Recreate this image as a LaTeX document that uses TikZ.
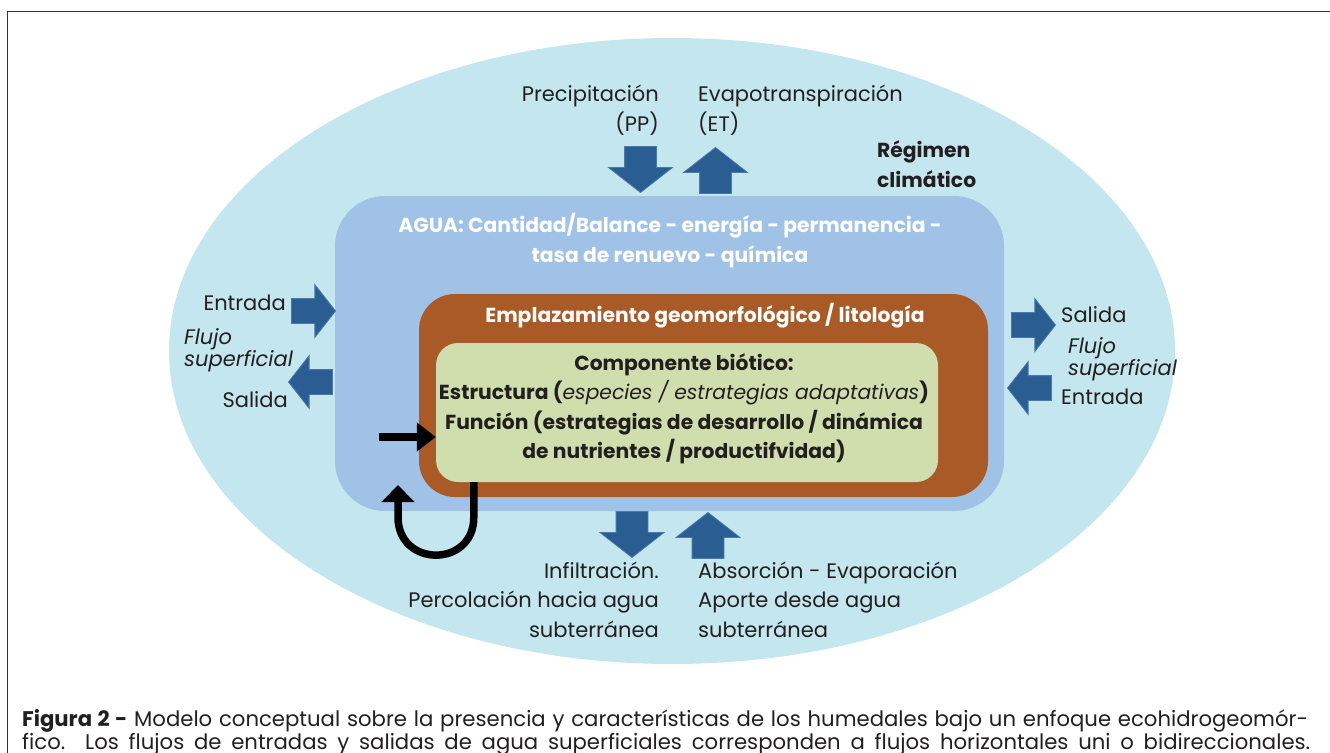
\documentclass[tikz,border=0pt]{standalone}
\usepackage{fontspec}
\setmainfont{Poppins}
\usetikzlibrary{arrows.meta,positioning,shapes.geometric,shapes.arrows}
\definecolor{clima}{HTML}{C3E6EF}
\definecolor{agua}{HTML}{A0C2E6}
\definecolor{geo}{HTML}{A95A26}
\definecolor{bio}{HTML}{CFDEAC}
\definecolor{flujo}{HTML}{2A5E92}
\definecolor{flujoline}{HTML}{4A78A8}
\definecolor{ink}{HTML}{231F20}

\begin{document}
\begin{tikzpicture}[x=1pt,y=-1pt,>=Stealth,
  txt/.style={font=\fontsize{21}{29.5}\selectfont,text=ink,inner sep=0pt},
  hd/.style={font=\bfseries\fontsize{20.3}{29.5}\selectfont,inner sep=0pt},
  itl/.style={font=\itshape\fontsize{21}{22}\selectfont,text=ink,inner sep=0pt,align=left},
  captxt/.style={font=\fontsize{21.2}{23}\selectfont,text=ink,inner sep=0pt},
  zone/.style={draw=none,inner sep=0pt,rounded corners=#1},
  flow/.style={single arrow,draw=flujoline,fill=flujo,line width=0.8pt,inner xsep=0pt,
    single arrow tip angle=104,anchor=tip},
  vflow/.style={flow,inner ysep=15.5pt,single arrow head extend=16pt,minimum height=46pt},
  hflow/.style={flow,inner ysep=12pt,single arrow head extend=14pt,minimum height=44pt},
  feedline/.style={line width=7.5pt,draw=black}]
\useasboundingbox (0,0) rectangle (1330,752);
\draw[line width=1.2pt,draw=black!80] (7.5,11.5) rectangle (1345,770);

% nested zones
\node[ellipse,fill=clima,inner sep=0pt,minimum width=1006pt,minimum height=626pt] (clim) at (672,351) {};
\node[zone=50pt,fill=agua,minimum width=669pt,minimum height=315pt] (agua) at (669.5,353.5) {};
\node[zone=36pt,fill=geo,minimum width=569pt,minimum height=203pt] (geo) at (703.5,395.5) {};
\node[zone=22pt,fill=bio,minimum width=502pt,minimum height=139pt] (bio) at (687,412.5) {};

% zone titles (base = last line)
\node[hd,text=ink,align=left,anchor=base west] (climlab) at (877,187) {Régimen\\climático};
\node[hd,text=white,align=center,anchor=base] (agualab) at (670,262)
  {AGUA: Cantidad/Balance - energía - permanencia -\\tasa de renuevo - química};
\node[hd,text=white,anchor=base] (geolab) at (705,322) {Emplazamiento geomorfológico / litología};
\node[hd,text=ink,align=center,anchor=base] (biolab) at (684,458.5)
  {Componente biótico:\\Estructura (\textit{\mdseries especies / estrategias adaptativas})\\
   Función (estrategias de desarrollo / dinámica\\de nutrientes / productifvidad)};

% vertical flows
\node[vflow,rotate=-90] (pp) at (640.5,193) {};
\node[vflow,rotate=90] (et) at (715.5,147) {};
\node[vflow,rotate=-90] (inf) at (632,558) {};
\node[vflow,rotate=90] (abs) at (708,512) {};
\node[txt,align=right,anchor=base east] (pplab) at (659,131) {Precipitación\\(PP)};
\node[txt,align=left,anchor=base west] (etlab) at (698,131) {Evapotranspiración\\(ET)};
\node[txt,align=right,anchor=base east] (inflab) at (659,637)
  {Infiltración.\\Percolación hacia agua\\subterránea};
\node[txt,align=left,anchor=base west] (abslab) at (698,637)
  {Absorción - Evaporación\\Aporte desde agua\\subterránea};

% horizontal flows
\node[hflow] (inw) at (336,311) {};
\node[hflow,rotate=180] (outw) at (288,382) {};
\node[hflow] (oute) at (1056,325) {};
\node[hflow,rotate=180] (ine) at (1007,388) {};
\node[txt,anchor=base east] (inwlab) at (286,310) {Entrada};
\node[itl,anchor=base west] (flujow) at (184,366) {Flujo\\superficial};
\node[txt,anchor=base east] (outwlab) at (288,407) {Salida};
\node[txt,anchor=base west] (outelab) at (1061,322) {Salida};
\node[itl,anchor=base west] (flujoe) at (1068,375) {Flujo\\superficial};
\node[txt,anchor=base west] (inelab) at (1061,404) {Entrada};

% feedback into the biotic component
\coordinate (feed) at (379,437);
\coordinate (back) at (398,485);
\draw[feedline,line width=8pt,-{Triangle[length=19pt,width=28pt]}] (feed) -- (bio.west|-feed);
\draw[feedline,-{Triangle[length=17pt,width=32pt]}] ([xshift=38pt]bio.south west) -- ++(0,35)
  .. controls +(0,50.7) and +(0,50.7) .. (398,517) -- (back);

% caption
\node[captxt,anchor=base west] (capa) at (22,726)
  {\makebox[1286pt][s]{\textbf{Figura 2 -} Modelo conceptual sobre la presencia y características de los humedales bajo un enfoque ecohidrogeomór-}};
\node[captxt,anchor=base west] (capb) at (22,749)
  {\makebox[1288pt][s]{fico. Los flujos de entradas y salidas de agua superficiales corresponden a flujos horizontales uni o bidireccionales.}};
\end{tikzpicture}
\end{document}
